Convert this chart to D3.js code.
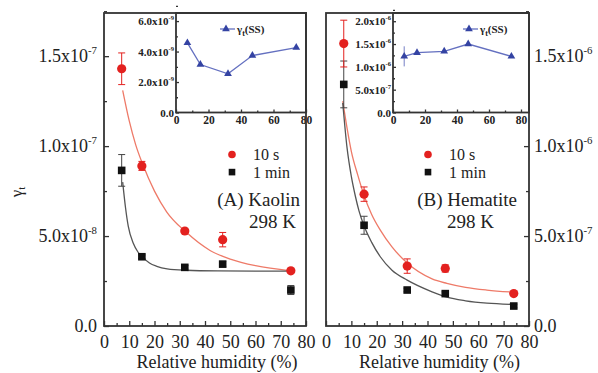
<!DOCTYPE html>
<html>
<head>
<meta charset="utf-8">
<script src="https://cdn.jsdelivr.net/npm/d3@7"></script>
<style>
body { margin: 0; background: #fff; }
svg text { font-family: "Liberation Serif", "Times New Roman", serif; fill: #222; }
.frame { fill: none; stroke: #333; stroke-width: 1.8; }
.axis path { display: none; }
.axis line { stroke: #333; stroke-width: 1.3; }
</style>
</head>
<body>
<svg id="chart" width="598" height="373"></svg>
<script>
var width = 598, height = 373;

// relative humidity (%) of the measurements
var rh = [7, 15, 32, 47, 74];

// (A) Kaolin
var kaolin10s = [1.43e-7, 0.89e-7, 0.528e-7, 0.48e-7, 0.307e-7];
var kaolin10sErr = [0.088e-7, 0.025e-7, 0.01e-7, 0.04e-7, 0.01e-7];
var kaolin1min = [0.865e-7, 0.385e-7, 0.326e-7, 0.344e-7, 0.2e-7];
var kaolin1minErr = [0.088e-7, 0.01e-7, 0.01e-7, 0.015e-7, 0.025e-7];
var kaolinSS = [4.57e-9, 3.15e-9, 2.54e-9, 3.74e-9, 4.26e-9];
var kaolinSSErr = [0.1e-9, 0.1e-9, 0.1e-9, 0.1e-9, 0.1e-9];
// fitted curves [rh, value]
var kaolinFit10s = [[7.4,1.31e-7],[10,1.14e-7],[12.5,1.01e-7],[15.3,0.9e-7],[20,0.75e-7],[24.8,0.635e-7],
  [32.5,0.522e-7],[42,0.42e-7],[50,0.372e-7],[60,0.335e-7],[74,0.307e-7]];
var kaolinFit1min = [[7.4,0.8e-7],[8.5,0.66e-7],[9.6,0.555e-7],[11.6,0.46e-7],[13.5,0.41e-7],[15.3,0.383e-7],
  [18,0.35e-7],[20.9,0.332e-7],[25,0.318e-7],[32.5,0.31e-7],[45,0.306e-7],[60,0.305e-7],[74,0.305e-7]];

// (B) Hematite
var hematite10s = [1.57e-6, 0.733e-6, 0.333e-6, 0.32e-6, 0.18e-6];
var hematite10sErr = [0.13e-6, 0.04e-6, 0.04e-6, 0.02e-6, 0.01e-6];
var hematite1min = [1.343e-6, 0.56e-6, 0.2e-6, 0.18e-6, 0.111e-6];
var hematite1minErr = [0.13e-6, 0.05e-6, 0.01e-6, 0.01e-6, 0.01e-6];
var hematiteSS = [1.23e-6, 1.31e-6, 1.34e-6, 1.5e-6, 1.23e-6];
var hematiteSSErr = [0.22e-6, 0.04e-6, 0.03e-6, 0.03e-6, 0.03e-6];
var hematiteFit10s = [[6.6,1.25e-6],[8.3,1.1e-6],[10,0.97e-6],[12.5,0.84e-6],[14.9,0.73e-6],[18,0.62e-6],
  [21.4,0.533e-6],[26,0.44e-6],[32,0.35e-6],[41.8,0.262e-6],[47.6,0.237e-6],[55,0.215e-6],[63.4,0.2e-6],[74,0.188e-6]];
var hematiteFit1min = [[6.6,1.24e-6],[8.3,0.99e-6],[10,0.83e-6],[11.6,0.72e-6],[13,0.64e-6],[14.9,0.56e-6],
  [18,0.465e-6],[21.4,0.385e-6],[26,0.31e-6],[32,0.255e-6],[41.8,0.19e-6],[47.6,0.16e-6],[55,0.14e-6],[63.4,0.127e-6],[74,0.12e-6]];

// tick labels (mantissa + exponent)
var xTicks = [0, 10, 20, 30, 40, 50, 60, 70, 80];
var insetXTicks = [0, 20, 40, 60, 80];
var kaolinYTicks = [0, 5e-8, 1e-7, 1.5e-7];
var kaolinYMant = ["0.0", "5.0", "1.0", "1.5"];
var kaolinYExp = ["", "-8", "-7", "-7"];
var hematiteYTicks = [0, 5e-7, 1e-6, 1.5e-6];
var hematiteYMant = ["0.0", "5.0", "1.0", "1.5"];
var hematiteYExp = ["", "-7", "-6", "-6"];
var kaolinInsetTicks = [0, 2e-9, 4e-9, 6e-9];
var kaolinInsetMant = ["0.0", "2.0", "4.0", "6.0"];
var kaolinInsetExp = ["", "-9", "-9", "-9"];
var hematiteInsetTicks = [0, 5e-7, 1e-6, 1.5e-6, 2e-6];
var hematiteInsetMant = ["0.0", "5.0", "1.0", "1.5", "2.0"];
var hematiteInsetExp = ["", "-7", "-6", "-6", "-6"];

var RED = "#e3211f", RED_LINE = "#ee7a68", BLACK = "#111", GRAY_LINE = "#555";
var BLUE = "#3443a3", BLUE_LINE = "#6470c0";

var svg = d3.select("#chart");
var plotTop = 13, plotBottom = 326, insetBottom = 112.5;

function sciLabels(sel, mant, exp, size) {
    sel.selectAll(".tick text").each(function(d, i) {
        var t = d3.select(this).text(null);
        t.append("tspan").text(mant[i]);
        if (exp[i]) {
            t.append("tspan").text("x10");
            t.append("tspan").attr("dy", -size * 0.45).attr("font-size", size * 0.6).text(exp[i]);
        }
    });
}

function drawPanel(p) {
    var g = svg.append("g");
    var x = d3.scaleLinear().domain([0, 80]).range([p.x0, p.x1]);
    var y = d3.scaleLinear().domain([0, p.ymax]).range([plotBottom, plotTop]);

    g.append("rect").attr("x", p.x0).attr("y", plotTop)
        .attr("width", p.x1 - p.x0).attr("height", plotBottom - plotTop).attr("fill", "#fff");

    var line = d3.line().x(d => x(d[0])).y(d => y(d[1])).curve(d3.curveMonotoneX);
    g.append("path").datum(p.fitRed).attr("d", line)
        .attr("fill", "none").attr("stroke", RED_LINE).attr("stroke-width", 1.3);
    g.append("path").datum(p.fitBlack).attr("d", line)
        .attr("fill", "none").attr("stroke", GRAY_LINE).attr("stroke-width", 1.3);

    function errorBars(vals, errs, color) {
        var eb = g.append("g").attr("stroke", color).attr("stroke-width", 1);
        rh.forEach(function(r, i) {
            var cx = x(r), y1 = y(vals[i] + errs[i]), y2 = y(vals[i] - errs[i]);
            eb.append("line").attr("x1", cx).attr("x2", cx).attr("y1", y1).attr("y2", y2);
            eb.append("line").attr("x1", cx - 3.5).attr("x2", cx + 3.5).attr("y1", y1).attr("y2", y1);
            eb.append("line").attr("x1", cx - 3.5).attr("x2", cx + 3.5).attr("y1", y2).attr("y2", y2);
        });
    }
    errorBars(p.black, p.blackErr, "#444");
    errorBars(p.red, p.redErr, RED);

    g.selectAll(".sq").data(p.black).enter().append("rect")
        .attr("x", (d, i) => x(rh[i]) - 3.8).attr("y", d => y(d) - 3.8)
        .attr("width", 7.6).attr("height", 7.6).attr("fill", BLACK);
    g.selectAll(".ci").data(p.red).enter().append("circle")
        .attr("cx", (d, i) => x(rh[i])).attr("cy", d => y(d)).attr("r", 4.6).attr("fill", RED);

    // legend
    g.append("circle").attr("cx", p.legX).attr("cy", 154.5).attr("r", 3.8).attr("fill", RED);
    g.append("rect").attr("x", p.legX - 3.3).attr("y", 168.8).attr("width", 6.6).attr("height", 6.6).attr("fill", BLACK);
    g.append("text").attr("x", p.legX + 21).attr("y", 160).attr("font-size", 16).text("10 s");
    g.append("text").attr("x", p.legX + 21).attr("y", 178).attr("font-size", 16).text("1 min");
    g.append("text").attr("x", p.labelX).attr("y", 206).attr("font-size", 19)
        .attr("text-anchor", "end").text(p.label);
    g.append("text").attr("x", p.tempX).attr("y", 228).attr("font-size", 19)
        .attr("text-anchor", "end").text("298 K");

    // x axis
    g.append("g").attr("class", "axis").attr("transform", `translate(0,${plotBottom})`)
        .call(d3.axisBottom(x).tickValues(xTicks).tickSizeInner(-5).tickSizeOuter(0).tickPadding(9))
        .selectAll("text").attr("font-size", 18);
    g.append("g").attr("class", "axis").attr("transform", `translate(0,${plotBottom})`)
        .call(d3.axisBottom(x).tickValues(xTicks.slice(1).map(v => v - 5)).tickSizeInner(-3).tickSizeOuter(0).tickFormat(""));
    g.append("text").attr("x", (p.x0 + p.x1) / 2 + 12).attr("y", 368).attr("font-size", 18)
        .attr("text-anchor", "middle").text("Relative humidity (%)");

    // y axis
    var yAxis = p.right ? d3.axisRight(y) : d3.axisLeft(y);
    var ax = g.append("g").attr("class", "axis")
        .attr("transform", `translate(${p.right ? p.x1 : p.x0},0)`)
        .call(yAxis.tickValues(p.yTicks).tickSizeInner(-5).tickSizeOuter(0).tickPadding(p.right ? 5 : 7));
    ax.selectAll("text").attr("font-size", 18);
    sciLabels(ax, p.yMant, p.yExp, 18);
    g.append("g").attr("class", "axis")
        .attr("transform", `translate(${p.right ? p.x1 : p.x0},0)`)
        .call((p.right ? d3.axisRight(y) : d3.axisLeft(y))
            .tickValues(p.yTicks.map(v => v + p.yTicks[1] / 2)).tickSizeInner(-3).tickSizeOuter(0).tickFormat(""));

    // inset
    var ig = g.append("g");
    var ix = d3.scaleLinear().domain([0, p.inXmax]).range([p.in0, p.x1]);
    var iy = d3.scaleLinear().domain([0, p.inYmax]).range([insetBottom, plotTop]);
    ig.append("rect").attr("x", p.in0).attr("y", plotTop).attr("width", p.x1 - p.in0)
        .attr("height", insetBottom - plotTop).attr("fill", "#fff");
    ig.append("path").datum(p.ss).attr("fill", "none").attr("stroke", BLUE_LINE).attr("stroke-width", 1.3)
        .attr("d", d3.line().x((d, i) => ix(rh[i])).y(d => iy(d)));
    var ie = ig.append("g").attr("stroke", BLUE_LINE).attr("stroke-width", 0.9);
    p.ss.forEach(function(v, i) {
        ie.append("line").attr("x1", ix(rh[i])).attr("x2", ix(rh[i]))
            .attr("y1", iy(v + p.ssErr[i])).attr("y2", iy(v - p.ssErr[i]));
    });
    var tri = d3.symbol().type(d3.symbolTriangle).size(26);
    ig.selectAll(".tri").data(p.ss).enter().append("path").attr("d", tri)
        .attr("transform", (d, i) => `translate(${ix(rh[i])},${iy(d)})`).attr("fill", BLUE);
    ig.append("line").attr("x1", p.inLegX - 6).attr("x2", p.inLegX + 9).attr("y1", 29).attr("y2", 29)
        .attr("stroke", BLUE_LINE).attr("stroke-width", 1.3);
    ig.append("path").attr("d", tri).attr("transform", `translate(${p.inLegX},29)`).attr("fill", BLUE);
    var lt = ig.append("text").attr("x", p.inLegX + 11).attr("y", 33).attr("font-size", 11).attr("font-weight", "bold");
    lt.append("tspan").text("γ");
    lt.append("tspan").attr("dy", 2.5).attr("font-size", 8).text("t");
    lt.append("tspan").attr("dy", -2.5).text("(SS)");

    var ixa = ig.append("g").attr("class", "axis").attr("transform", `translate(0,${insetBottom})`)
        .call(d3.axisBottom(ix).tickValues(insetXTicks).tickSizeInner(-3).tickSizeOuter(0).tickPadding(3));
    ixa.selectAll("text").attr("font-size", 11.5).attr("font-weight", "bold");
    ig.append("g").attr("class", "axis").attr("transform", `translate(0,${insetBottom})`)
        .call(d3.axisBottom(ix).tickValues(insetXTicks.slice(1).map(v => v - 10)).tickSizeInner(-2).tickSizeOuter(0).tickFormat(""));
    var iya = ig.append("g").attr("class", "axis").attr("transform", `translate(${p.in0},0)`)
        .call(d3.axisLeft(iy).tickValues(p.inTicks).tickSizeInner(-3).tickSizeOuter(0).tickPadding(2));
    iya.selectAll("text").attr("font-size", 11).attr("font-weight", "bold");
    sciLabels(iya, p.inMant, p.inExp, 11);
    ig.append("g").attr("class", "axis").attr("transform", `translate(${p.in0},0)`)
        .call(d3.axisLeft(iy).tickValues(p.inTicks.map(v => v + p.inTicks[1] / 2)).tickSizeInner(-2).tickSizeOuter(0).tickFormat(""));
    ig.append("rect").attr("class", "frame").attr("x", p.in0).attr("y", plotTop)
        .attr("width", p.x1 - p.in0).attr("height", insetBottom - plotTop).attr("stroke-width", 1.4);

    g.append("rect").attr("class", "frame").attr("x", p.x0).attr("y", plotTop)
        .attr("width", p.x1 - p.x0).attr("height", plotBottom - plotTop);
}

drawPanel({
    x0: 104, x1: 306, ymax: 1.74e-7, right: false,
    red: kaolin10s, redErr: kaolin10sErr, black: kaolin1min, blackErr: kaolin1minErr,
    fitRed: kaolinFit10s, fitBlack: kaolinFit1min,
    yTicks: kaolinYTicks, yMant: kaolinYMant, yExp: kaolinYExp,
    legX: 232, label: "(A) Kaolin", labelX: 300, tempX: 296,
    ss: kaolinSS, ssErr: kaolinSSErr, in0: 176, inXmax: 80, inYmax: 6.53e-9,
    inTicks: kaolinInsetTicks, inMant: kaolinInsetMant, inExp: kaolinInsetExp, inLegX: 226
});
drawPanel({
    x0: 326, x1: 529, ymax: 1.74e-6, right: true,
    red: hematite10s, redErr: hematite10sErr, black: hematite1min, blackErr: hematite1minErr,
    fitRed: hematiteFit10s, fitBlack: hematiteFit1min,
    yTicks: hematiteYTicks, yMant: hematiteYMant, yExp: hematiteYExp,
    legX: 428, label: "(B) Hematite", labelX: 517, tempX: 494,
    ss: hematiteSS, ssErr: hematiteSSErr, in0: 393, inXmax: 85, inYmax: 2.18e-6,
    inTicks: hematiteInsetTicks, inMant: hematiteInsetMant, inExp: hematiteInsetExp, inLegX: 469
});

// y axis title
var yt = svg.append("text").attr("transform", "translate(22,192) rotate(-90)")
    .attr("text-anchor", "middle").attr("font-size", 17);
yt.append("tspan").text("γ");
yt.append("tspan").attr("dy", 3).attr("font-size", 11).text("t");
</script>
</body>
</html>
